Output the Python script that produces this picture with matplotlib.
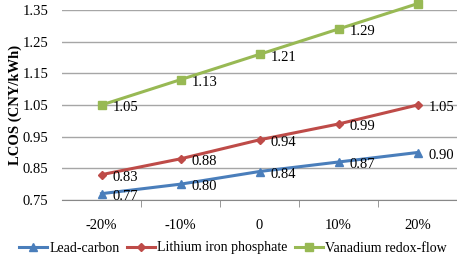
import matplotlib
matplotlib.use("Agg")
import matplotlib.pyplot as plt
from matplotlib.lines import Line2D

categories = ["-20%", "-10%", "0", "10%", "20%"]
lead_carbon = [0.77, 0.80, 0.84, 0.87, 0.90]
lithium = [0.83, 0.88, 0.94, 0.99, 1.05]
vanadium = [1.05, 1.13, 1.21, 1.29, 1.37]
yticks = [0.75, 0.85, 0.95, 1.05, 1.15, 1.25, 1.35]

plt.rcParams['font.family'] = ['Liberation Serif', 'DejaVu Serif']

fig = plt.figure(figsize=(4.57, 2.63), dpi=100)
ax = fig.add_axes([62/457, 1 - 200/263, (457-62)/457, (200-10)/263])

x = list(range(len(categories)))
series = [
    ("Lead-carbon", lead_carbon, "#4a7ebb", "^", 6),
    ("Lithium iron phosphate", lithium, "#be4b48", "D", 4.5),
    ("Vanadium redox-flow", vanadium, "#98b954", "s", 5.5),
]
handles = []
for name, vals, col, mk, ms in series:
    ax.plot(x, vals, color=col, lw=2.2, marker=mk, ms=ms, clip_on=False, zorder=3)
    handles.append(Line2D([], [], color=col, lw=2.2, marker=mk, ms=ms))
    for xi, v in zip(x, vals):
        ax.annotate(f"{v:.2f}", (xi, v), xytext=(8, -2), textcoords="offset points",
                    ha="left", va="center", fontsize=10.5, color="black", zorder=4)

ax.set_xlim(-0.5, 4.5)
ax.set_ylim(0.75, 1.35)
ax.set_yticks(yticks)
ax.set_yticklabels([f"{t:.2f}" for t in yticks], fontsize=10.5)
ax.set_xticks(x)
ax.set_xticklabels(categories, fontsize=10.5)
ax.tick_params(axis='x', length=0, pad=14)
ax.tick_params(axis='y', length=0, pad=10)
ax.set_xticks([0.5, 1.5, 2.5, 3.5], minor=True)
ax.tick_params(axis='x', which='minor', length=5, color="#888888", direction='out')
ax.grid(axis='y', color="#a6a6a6", lw=1)
ax.set_axisbelow(True)
for s in ["left", "right", "top"]:
    ax.spines[s].set_visible(False)
ax.spines["bottom"].set_color("#888888")
ax.set_ylabel("LCOS (CNY/kWh)", fontsize=10.5, fontweight="bold", va="center")
ax.yaxis.set_label_coords((15 - 62) / 395, 0.5)

fig.legend(handles=handles, labels=[s[0] for s in series], loc="center",
           bbox_to_anchor=(233/457, 1 - 248/263), ncol=3, frameon=False, fontsize=10,
           handlelength=2.0, columnspacing=0.55, handletextpad=0.15,
           borderpad=0, borderaxespad=0)

fig.savefig("out.png", dpi=100)
